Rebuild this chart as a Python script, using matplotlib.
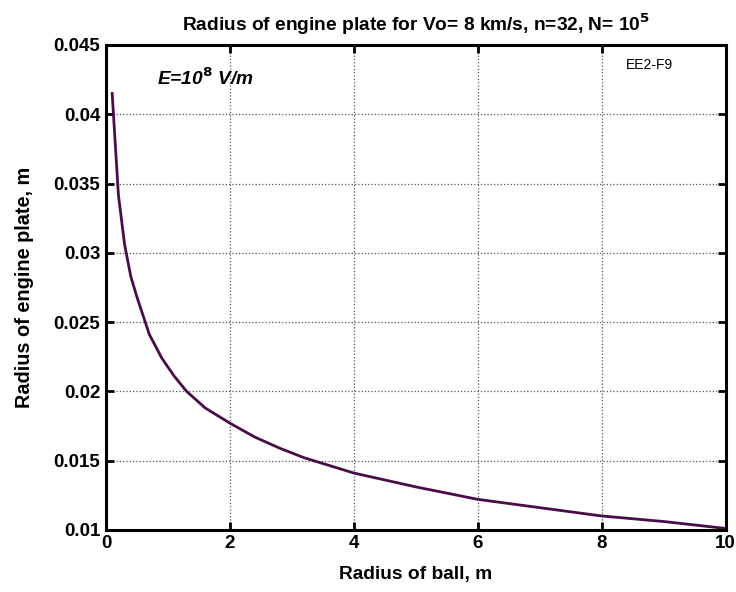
import numpy as np
import matplotlib.pyplot as plt
from matplotlib.ticker import FormatStrFormatter

plt.rcParams['font.family'] = ['Liberation Sans', 'DejaVu Sans']

# Radius of ball, m
r_ball = [0.1, 0.2, 0.3, 0.4, 0.5, 0.7, 0.9, 1.1, 1.3, 1.6, 2.0, 2.4,
          2.8, 3.2, 4.0, 5.0, 6.0, 7.0, 8.0, 9.0, 10.0]
# Radius of engine plate, m
r_plate = [0.0415, 0.0342, 0.0306, 0.0283, 0.0268, 0.0241, 0.0224, 0.0211,
           0.0200, 0.0188, 0.0177, 0.0167, 0.0159, 0.0152, 0.0141, 0.0131,
           0.0122, 0.0116, 0.0110, 0.0106, 0.0101]

fig = plt.figure(figsize=(7.36, 5.92), dpi=100)
ax = fig.add_axes([0.144, 0.105, 0.842, 0.819])
ax.plot(r_ball, r_plate, color='#4a0c48', linewidth=2.0)

ax.set_xlim(0, 10)
ax.set_ylim(0.01, 0.045)
ax.set_xticks(np.arange(0, 11, 2))
ax.set_yticks(np.arange(0.01, 0.0451, 0.005))
ax.yaxis.set_major_formatter(FormatStrFormatter('%g'))
ax.grid(True, linestyle=':', color='#555555', linewidth=0.9)
ax.tick_params(direction='in', length=6, width=2, top=True, right=True,
               labelsize=13.5, pad=4)
for lab in ax.get_xticklabels() + ax.get_yticklabels():
    lab.set_fontweight('bold')
for sp in ax.spines.values():
    sp.set_linewidth(2.2)

ax.set_title(r'Radius of engine plate for Vo= 8 km/s, n=32, N= 10$^{\mathbf{5}}$',
             fontsize=13.8, fontweight='bold', pad=10)
ax.set_xlabel('Radius of ball, m', fontsize=13.8, fontweight='bold', labelpad=10)
ax.set_ylabel('Radius of engine plate, m', fontsize=14.3, fontweight='bold', labelpad=14)

ax.text(0.82, 0.0426, r'E=10$^{\mathbf{8}}$ V/m', fontsize=13.8, fontweight='bold',
        fontstyle='italic', va='center')
ax.text(8.77, 0.04356, 'EE2-F9', fontsize=10, ha='center', va='center')

plt.savefig('out.png', dpi=100)
